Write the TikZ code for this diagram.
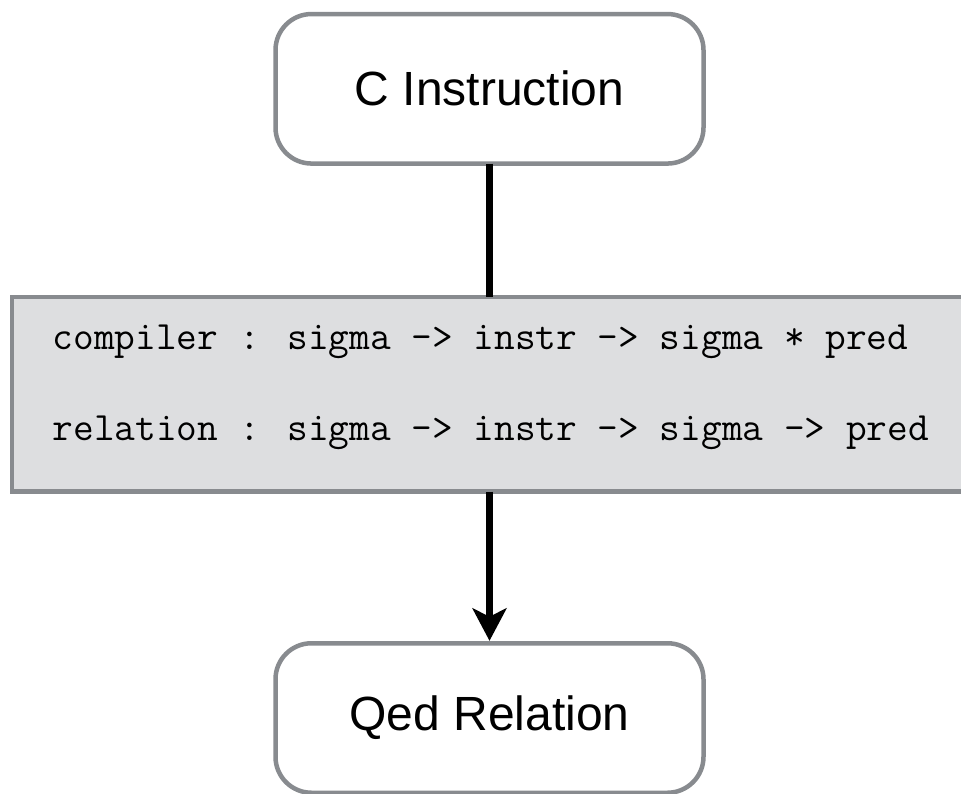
\documentclass[tikz,border=0pt]{standalone}
\usepackage{fontspec}
\setmainfont{Liberation Sans}
\usetikzlibrary{arrows.meta}
\definecolor{edgegray}{RGB}{136,139,143}
\definecolor{panelgray}{RGB}{221,222,224}
\tikzset{
  roundbox/.style={draw=edgegray, line width=4.5pt, rounded corners=36pt, fill=white,
    minimum width=428pt, minimum height=149.5pt, inner sep=0pt, outer sep=0pt,
    font=\fontsize{48}{58}\selectfont},
  panel/.style={draw=edgegray, line width=4.5pt, fill=panelgray, inner sep=0pt, outer sep=0pt},
  codeline/.style={anchor=base west, inner sep=0pt, font=\ttfamily\fontsize{40.2}{48}\selectfont},
  link/.style={line width=7.5pt, black},
  flow/.style={link, -{Stealth[length=33pt, width=35pt, inset=9pt, line width=0pt]}}
}
\begin{document}
\begin{tikzpicture}[x=1pt, y=-1pt]
  \useasboundingbox (0,0) rectangle (961,794);
  \begin{scope}
    \clip (0,0) rectangle (961,794);
    % type-signature panel, running off the right edge
    \node[panel, minimum width=965pt, minimum height=194.5pt] (sig) at (494.5,394.25) {};
    \node[codeline] (comp) at (52.5,349) {compiler : sigma -> instr -> sigma * pred};
    \node[codeline] (rel) at (52.5,440) {relation : sigma -> instr -> sigma -> pred};
  \end{scope}
  \node[roundbox] (ci) at (489.5,88.8) {C Instruction};
  \node[roundbox] (qr) at (489.5,718) {Qed Relation};
  \draw[link] (ci.south) -- (ci.south |- sig.north);
  \draw[flow] (qr.north |- sig.south) -- ([yshift=2.5pt]qr.north);
\end{tikzpicture}
\end{document}
